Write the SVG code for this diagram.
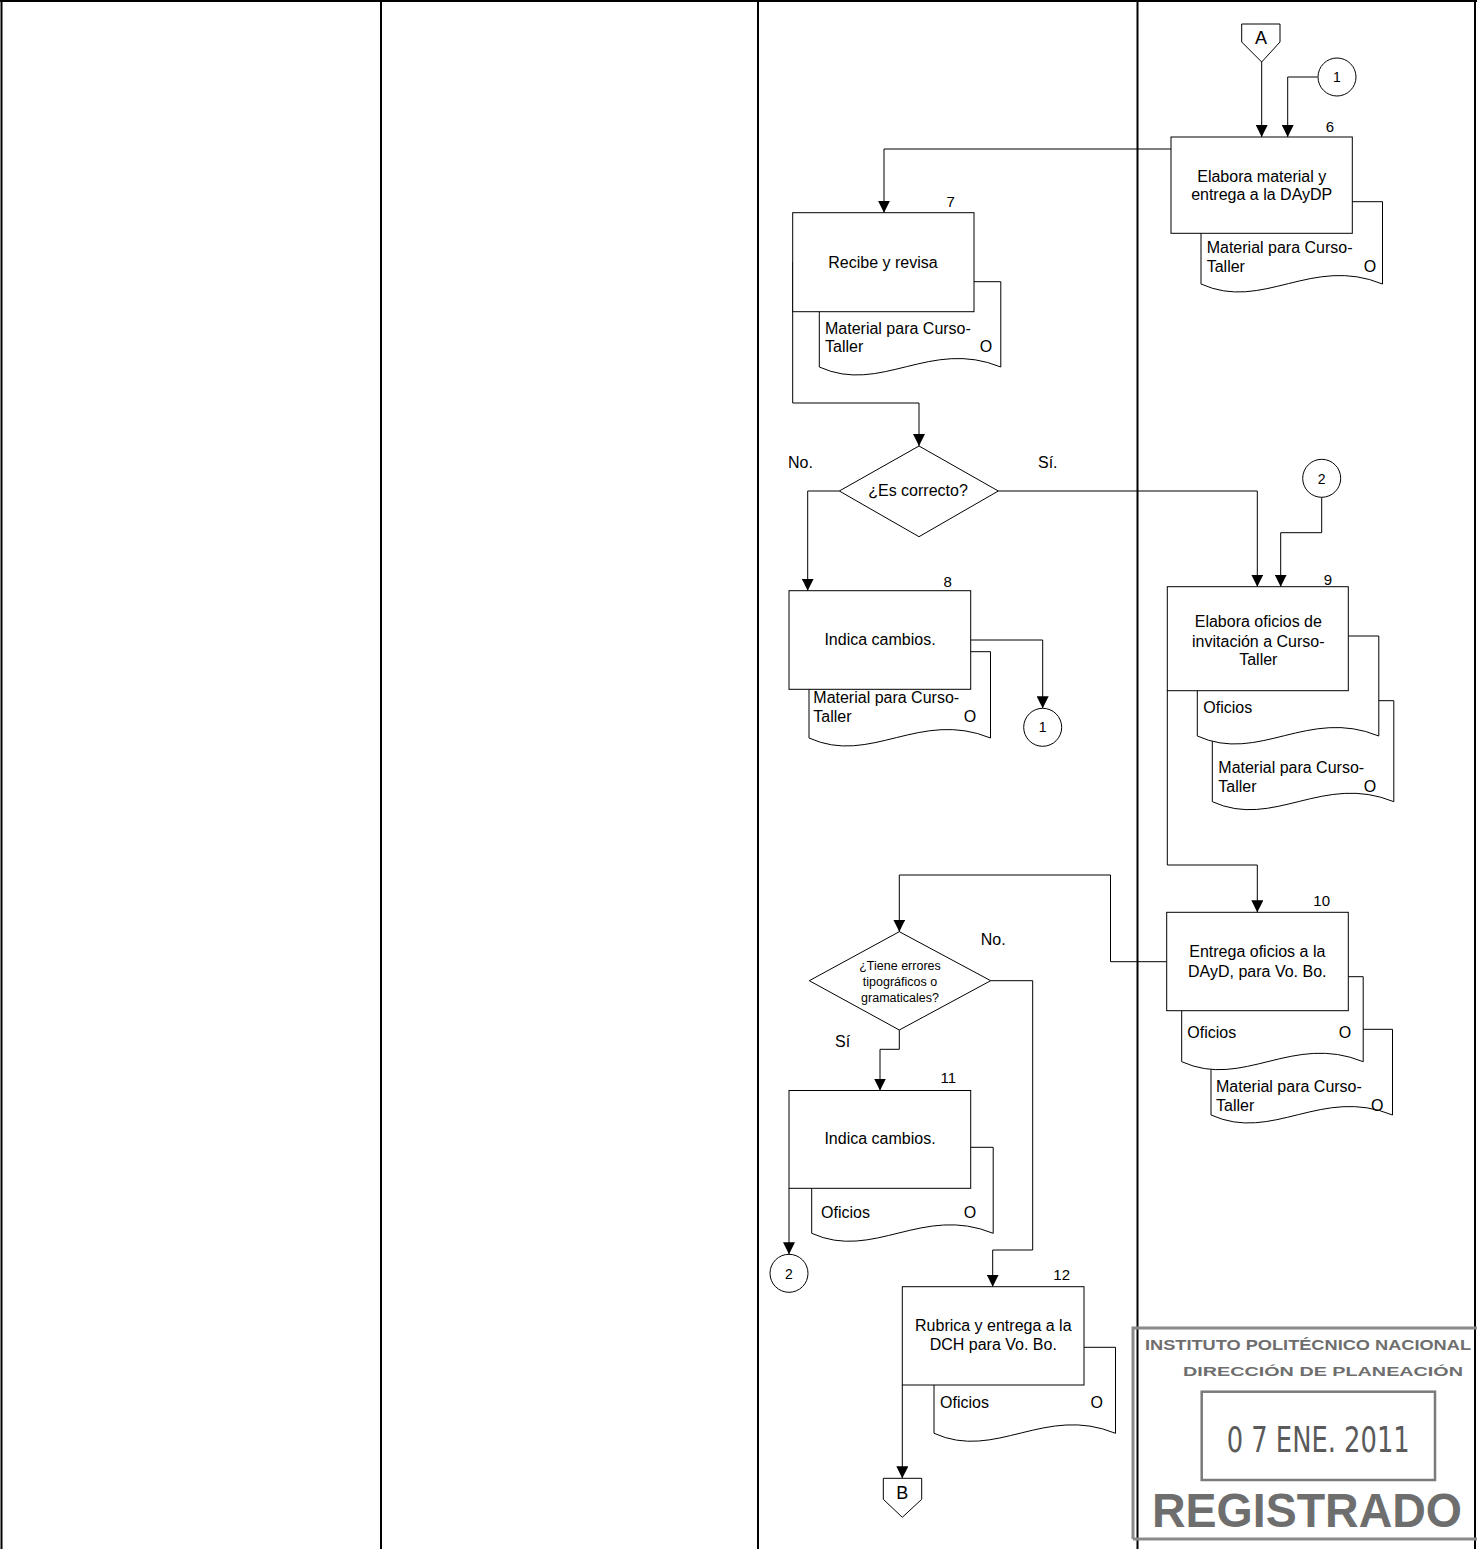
<svg xmlns="http://www.w3.org/2000/svg" width="1477" height="1549" viewBox="0 0 1477 1549">
<defs>
<style>
.lane{stroke:#000;stroke-width:2;fill:none}
.box{fill:#fff;stroke:#000;stroke-width:1}
.doc{fill:#fff;stroke:#000;stroke-width:1}
.con{fill:none;stroke:#000;stroke-width:1}
.t{font-family:"Liberation Sans",Arial,sans-serif;font-size:16px;fill:#000}
.c{text-anchor:middle}
.s{font-size:12.5px}
.n{font-size:15px}
.st{font-family:"Liberation Sans",Arial,sans-serif;font-weight:bold;fill:#6e6e6e}
</style>
<marker id="ar" markerUnits="userSpaceOnUse" markerWidth="12" markerHeight="12" refX="12" refY="6" orient="auto">
<path d="M0,0 L12,6 L0,12 Z" fill="#000"/>
</marker>
</defs>
<rect width="1477" height="1549" fill="#fff"/>

<g id="lanes">
<line class="lane" x1="0" y1="1" x2="1477" y2="1"/>
<line class="lane" x1="1.5" y1="0" x2="1.5" y2="1549"/>
<line class="lane" x1="381" y1="0" x2="381" y2="1549"/>
<line class="lane" x1="758" y1="0" x2="758" y2="1549"/>
<line class="lane" x1="1137.5" y1="0" x2="1137.5" y2="1549"/>
<line class="lane" x1="1475" y1="0" x2="1475" y2="1549"/>
</g>

<g id="connectors">
<path class="con" d="M1261.7,62 V137" marker-end="url(#ar)"/>
<path class="con" d="M1317.5,77 H1287.7 V137" marker-end="url(#ar)"/>
<path class="con" d="M1171,149 H884 V212.7" marker-end="url(#ar)"/>
<path class="con" d="M792.7,262 V403 H919 V446" marker-end="url(#ar)"/>
<path class="con" d="M839.3,491 H807.7 V590.7" marker-end="url(#ar)"/>
<path class="con" d="M998.3,491 H1257.3 V586.7" marker-end="url(#ar)"/>
<path class="con" d="M1321.7,497.3 V532.7 H1280.7 V586.7" marker-end="url(#ar)"/>
<path class="con" d="M970.7,640 H1042.7 V708.3" marker-end="url(#ar)"/>
<path class="con" d="M1167.3,690.7 V865 H1257.3 V912.3" marker-end="url(#ar)"/>
<path class="con" d="M1166.7,961.7 H1110.5 V875 H899.3 V931.7" marker-end="url(#ar)"/>
<path class="con" d="M899.3,1030 V1049.3 H880 V1090.5" marker-end="url(#ar)"/>
<path class="con" d="M990.7,980.7 H1032.7 V1250 H992.7 V1286.7" marker-end="url(#ar)"/>
<path class="con" d="M789,1188.3 V1254.3" marker-end="url(#ar)"/>
<path class="con" d="M902.3,1385 V1478.3" marker-end="url(#ar)"/>
</g>

<g id="offpageA">
<polygon class="box" points="1241.7,24 1280,24 1280,42 1261.7,62 1241.7,42"/>
<text class="t c" x="1261" y="43.5" style="font-size:18px">A</text>
</g>

<g id="conn1a">
<circle class="box" cx="1337" cy="77" r="19"/>
<text class="t c" x="1337" y="82" style="font-size:14px">1</text>
</g>

<g id="step6">
<path class="doc" d="M1201,201.7 H1382.5 V284 C1311.7,255 1262.7,312 1201,284 Z"/>
<rect class="box" x="1171" y="137" width="181.3" height="96.3"/>
<text class="t n c" x="1330" y="131.7">6</text>
<text class="t c" x="1261.7" y="182">Elabora material y</text>
<text class="t c" x="1261.7" y="200">entrega a la DAyDP</text>
<text class="t" x="1206.7" y="253.3">Material para Curso-</text>
<text class="t" x="1206.7" y="271.7">Taller</text>
<text class="t c" x="1370" y="271.7">O</text>
</g>

<g id="step7">
<path class="doc" d="M819.3,281.7 H1000.8 V367 C930,338 881,395 819.3,367 Z"/>
<rect class="box" x="792.7" y="212.7" width="181.3" height="99"/>
<text class="t n c" x="950.7" y="206.7">7</text>
<text class="t c" x="883" y="267.7">Recibe y revisa</text>
<text class="t" x="825" y="334">Material para Curso-</text>
<text class="t" x="825" y="352.3">Taller</text>
<text class="t c" x="986" y="352.3">O</text>
</g>

<g id="decision1">
<polygon class="box" points="919,446 998.3,491 919,536.7 839.3,491"/>
<text class="t c" x="918" y="495.7">¿Es correcto?</text>
<text class="t" x="788" y="468.3">No.</text>
<text class="t" x="1038" y="468.3">Sí.</text>
</g>

<g id="step8">
<path class="doc" d="M809,651.7 H990.5 V738 C919.7,709 870.7,766 809,738 Z"/>
<rect class="box" x="789" y="590.7" width="181.7" height="98.6"/>
<text class="t n c" x="947.7" y="586.7">8</text>
<text class="t c" x="880" y="645">Indica cambios.</text>
<text class="t" x="813.3" y="703.3">Material para Curso-</text>
<text class="t" x="813.3" y="721.7">Taller</text>
<text class="t c" x="970" y="721.7">O</text>
</g>

<g id="conn1b">
<circle class="box" cx="1042.7" cy="727.3" r="19"/>
<text class="t c" x="1042.7" y="732.3" style="font-size:14px">1</text>
</g>

<g id="conn2a">
<circle class="box" cx="1321.7" cy="478.3" r="19"/>
<text class="t c" x="1321.7" y="483.5" style="font-size:14px">2</text>
</g>

<g id="step9">
<path class="doc" d="M1212.3,700.7 H1393.8 V801.7 C1323,772.7 1274,829.7 1212.3,801.7 Z"/>
<path class="doc" d="M1197.3,636 H1378.8 V736 C1308,707 1259,764 1197.3,736 Z"/>
<rect class="box" x="1167.3" y="586.7" width="181" height="104"/>
<text class="t n c" x="1328" y="585">9</text>
<text class="t c" x="1258.3" y="626.7">Elabora oficios de</text>
<text class="t c" x="1258.3" y="646.7">invitación a Curso-</text>
<text class="t c" x="1258.3" y="665">Taller</text>
<text class="t" x="1203.3" y="713.3">Oficios</text>
<text class="t" x="1218.3" y="773.3">Material para Curso-</text>
<text class="t" x="1218.3" y="792.3">Taller</text>
<text class="t c" x="1370" y="792.3">O</text>
</g>

<g id="step10">
<path class="doc" d="M1211,1029.3 H1392.5 V1115 C1321.7,1086 1272.7,1143 1211,1115 Z"/>
<path class="doc" d="M1181.7,976.7 H1363.2 V1061.7 C1292.4,1032.7 1243.4,1089.7 1181.7,1061.7 Z"/>
<rect class="box" x="1166.7" y="912.3" width="181.6" height="98.4"/>
<text class="t n c" x="1321.7" y="905.7">10</text>
<text class="t c" x="1257.3" y="957.3">Entrega oficios a la</text>
<text class="t c" x="1257.3" y="976.7">DAyD, para Vo. Bo.</text>
<text class="t" x="1187.3" y="1038.3">Oficios</text>
<text class="t c" x="1345" y="1038.3">O</text>
<text class="t" x="1216" y="1092.3">Material para Curso-</text>
<text class="t" x="1216" y="1110.7">Taller</text>
<text class="t c" x="1377.3" y="1110.7">O</text>
</g>

<g id="decision2">
<polygon class="box" points="899.3,931.7 990.7,980.7 899.3,1030 809.3,980.7"/>
<text class="t s c" x="900" y="970">¿Tiene errores</text>
<text class="t s c" x="900" y="986">tipográficos o</text>
<text class="t s c" x="900" y="1001.7">gramaticales?</text>
<text class="t" x="980.7" y="945">No.</text>
<text class="t" x="835" y="1047.3">Sí</text>
</g>

<g id="step11">
<path class="doc" d="M811.7,1147.3 H993.2 V1233.3 C922.4,1204.3 873.4,1261.3 811.7,1233.3 Z"/>
<rect class="box" x="789" y="1090.5" width="181.7" height="97.8"/>
<text class="t n c" x="948.3" y="1083.3">11</text>
<text class="t c" x="880" y="1144.3">Indica cambios.</text>
<text class="t" x="821" y="1217.7">Oficios</text>
<text class="t c" x="970" y="1217.7">O</text>
</g>

<g id="conn2b">
<circle class="box" cx="789" cy="1273.3" r="19"/>
<text class="t c" x="789" y="1278.5" style="font-size:14px">2</text>
</g>

<g id="step12">
<path class="doc" d="M934,1347.3 H1115.5 V1433.3 C1044.7,1404.3 995.7,1461.3 934,1433.3 Z"/>
<rect class="box" x="902.3" y="1286.7" width="181.7" height="98.3"/>
<text class="t n c" x="1061.7" y="1280">12</text>
<text class="t c" x="993.3" y="1331">Rubrica y entrega a la</text>
<text class="t c" x="993.3" y="1350">DCH para Vo. Bo.</text>
<text class="t" x="940" y="1408.3">Oficios</text>
<text class="t c" x="1096.7" y="1408.3">O</text>
</g>

<g id="offpageB">
<polygon class="box" points="883.3,1478.3 921.7,1478.3 921.7,1499.3 902.3,1517.3 883.3,1499.3"/>
<text class="t c" x="902.3" y="1499" style="font-size:18px">B</text>
</g>

<g id="stamp">
<path d="M1133,1539 V1328 H1477 M1133,1539 H1477" fill="none" stroke="#8a8a8a" stroke-width="3"/>
<rect x="1201.7" y="1391.7" width="233.3" height="88.3" fill="none" stroke="#7a7a7a" stroke-width="2.5"/>
<text class="st" x="1145" y="1349.5" style="font-size:14px" textLength="326" lengthAdjust="spacingAndGlyphs">INSTITUTO POLITÉCNICO NACIONAL</text>
<text class="st" x="1183" y="1375.5" style="font-size:13.5px" textLength="280" lengthAdjust="spacingAndGlyphs">DIRECCIÓN DE PLANEACIÓN</text>
<text x="1226.7" y="1451.7" style="font-family:'DejaVu Sans Condensed','Liberation Sans',sans-serif;font-size:36px;fill:#5a5a5a" textLength="183" lengthAdjust="spacingAndGlyphs">0 7 ENE. 2011</text>
<text class="st" x="1152" y="1526.5" style="font-size:48px" textLength="310" lengthAdjust="spacingAndGlyphs">REGISTRADO</text>
</g>
</svg>
